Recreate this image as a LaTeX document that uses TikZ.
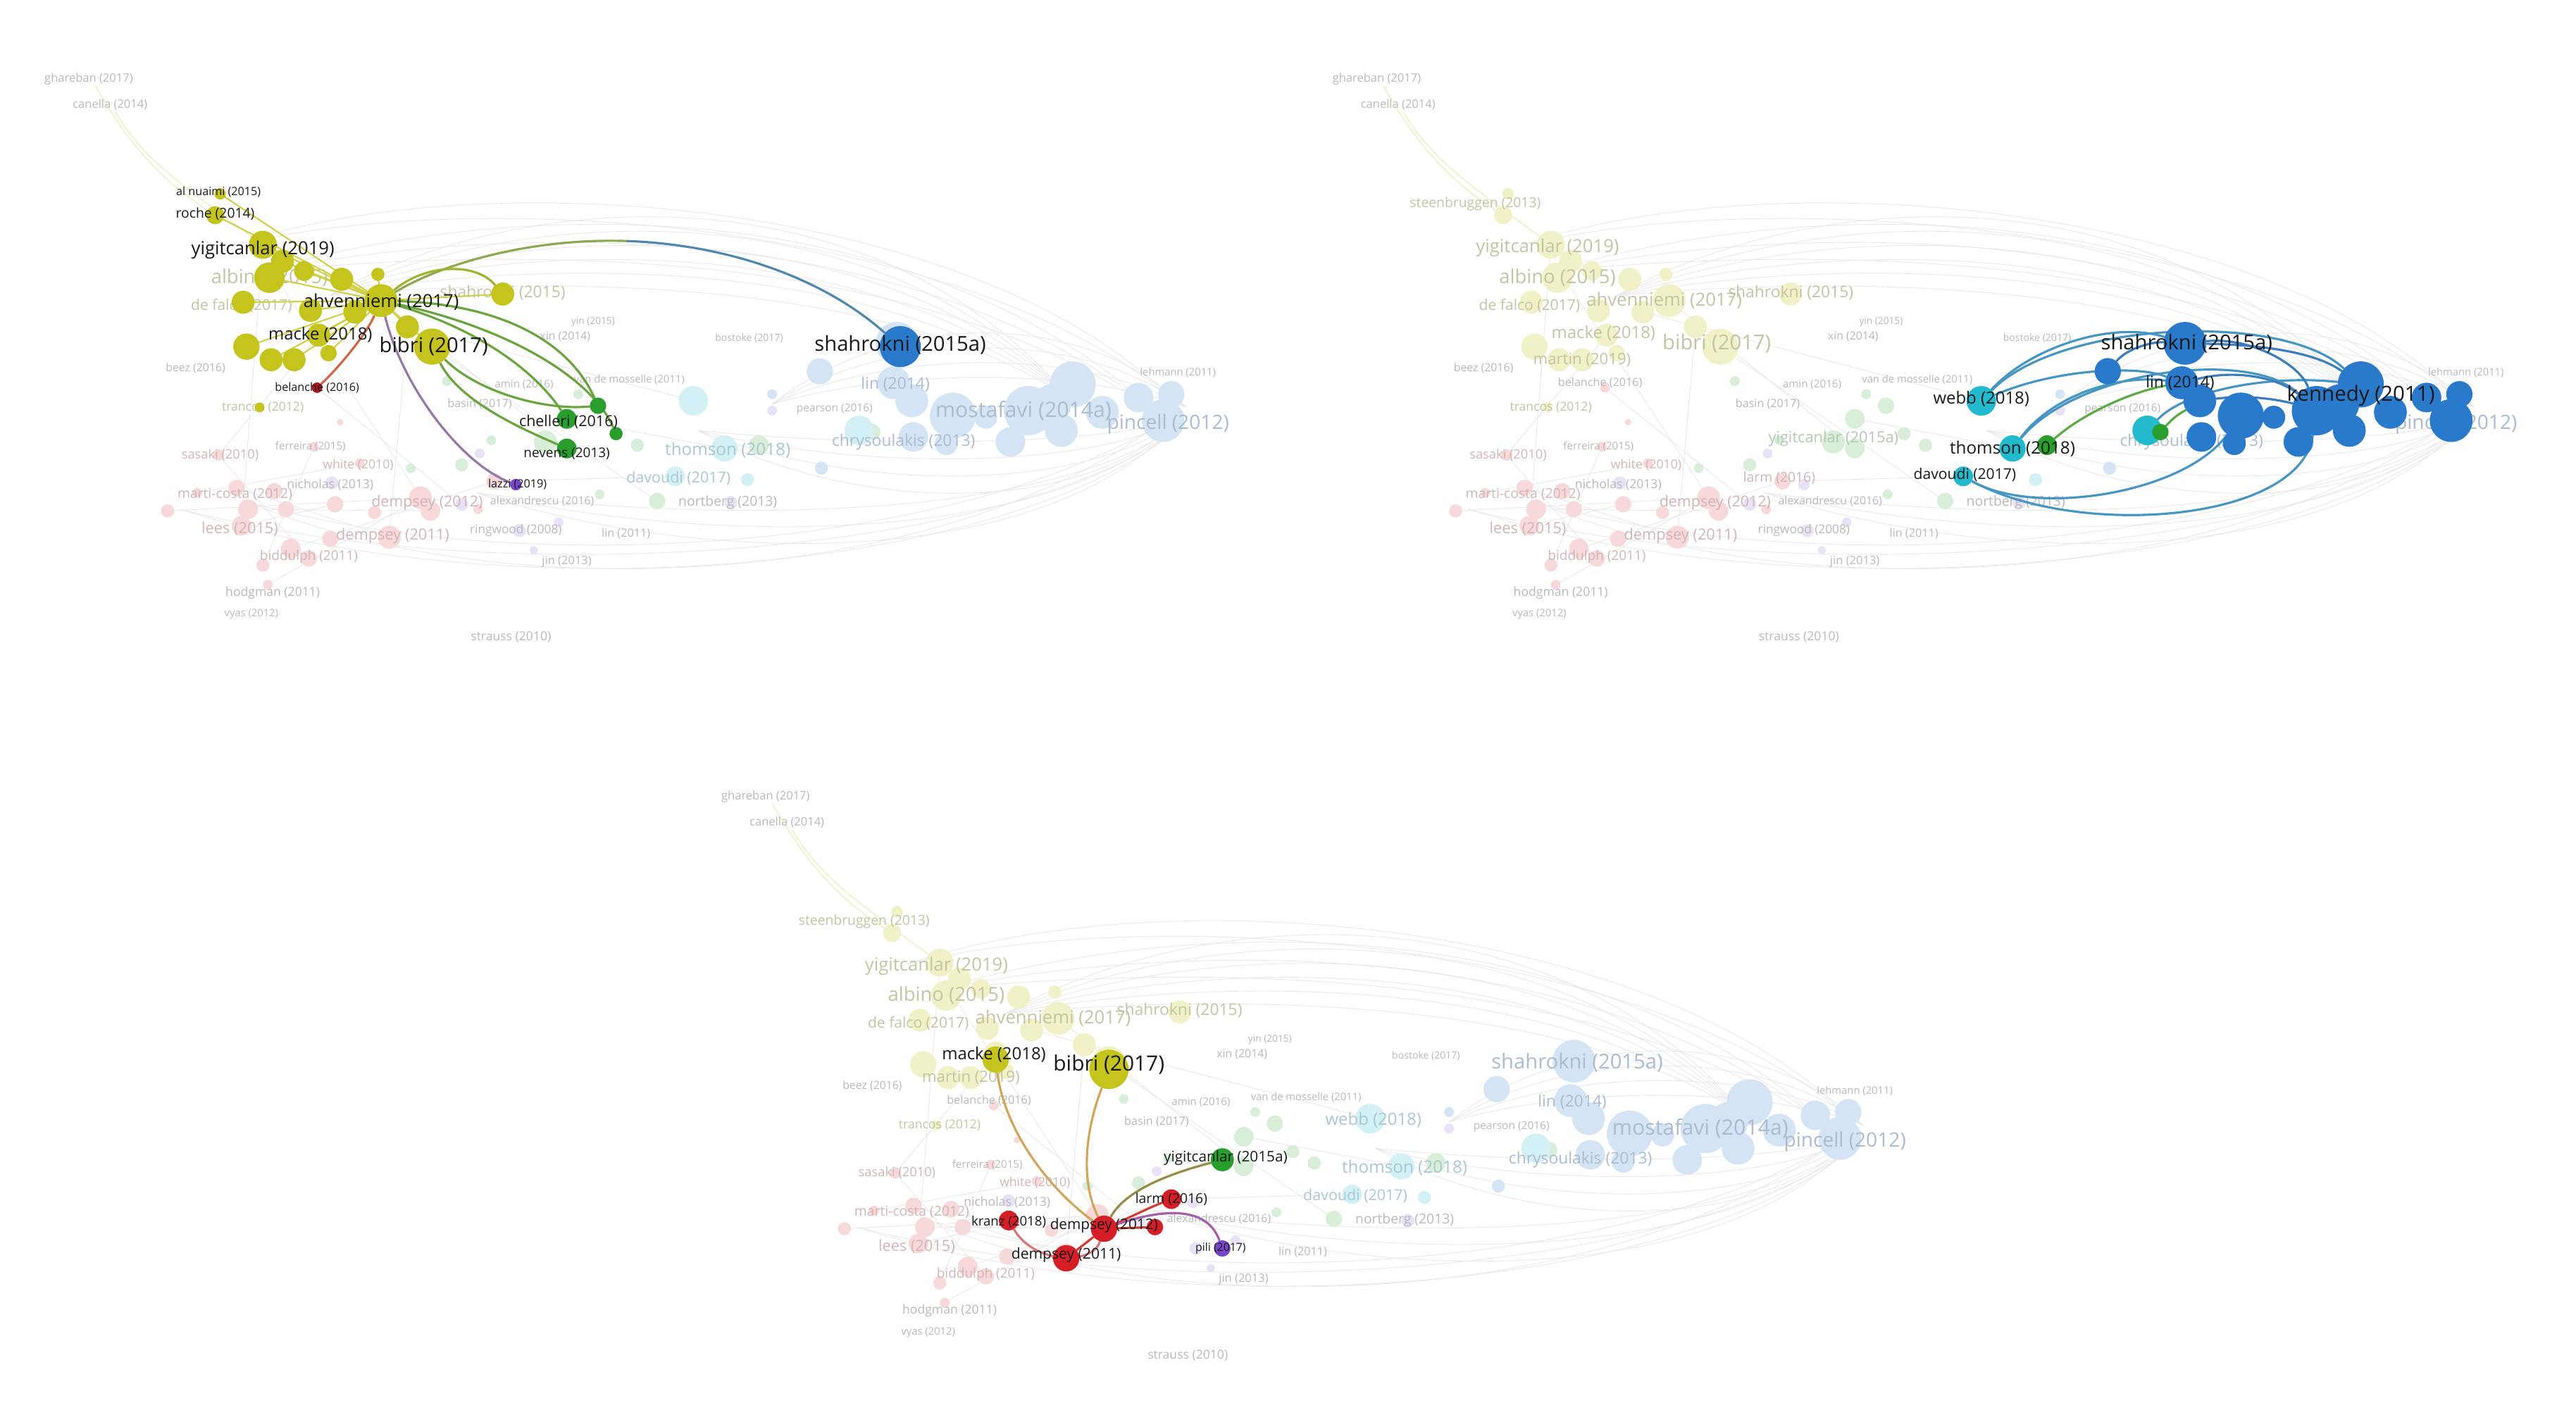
\documentclass[tikz,border=0pt]{standalone}
\usepackage{fontspec}
\setmainfont{Open Sans}
\definecolor{cY}{RGB}{196,196,28}
\definecolor{cB}{RGB}{42,122,204}
\definecolor{cC}{RGB}{36,186,206}
\definecolor{cG}{RGB}{40,158,44}
\definecolor{cR}{RGB}{214,30,38}
\definecolor{cP}{RGB}{120,70,200}
\definecolor{txt}{RGB}{25,25,25}
\colorlet{fY}{cY!24}
\colorlet{fB}{cB!20}
\colorlet{fC}{cC!20}
\colorlet{fG}{cG!18}
\colorlet{fR}{cR!17}
\colorlet{fP}{cP!16}
\definecolor{ty}{RGB}{196,196,165}
\definecolor{tb}{RGB}{172,188,208}
\definecolor{tr}{RGB}{208,182,182}
\definecolor{tg}{RGB}{180,200,180}
\definecolor{tc}{RGB}{170,200,210}
\definecolor{tk}{RGB}{185,185,185}
\definecolor{eA}{RGB}{140,168,80}
\definecolor{eB}{RGB}{80,135,175}
\definecolor{eG}{RGB}{105,165,60}
\definecolor{eYG}{RGB}{160,180,50}
\definecolor{eP}{RGB}{150,120,165}
\definecolor{eR}{RGB}{205,105,75}
\definecolor{eC}{RGB}{70,150,195}
\definecolor{eB2}{RGB}{60,125,190}
\definecolor{eGC}{RGB}{90,170,70}
\definecolor{eT}{RGB}{210,165,90}
\definecolor{eO}{RGB}{150,140,70}
\definecolor{eRR}{RGB}{210,60,50}
\definecolor{eRP}{RGB}{215,120,120}
\definecolor{ePP}{RGB}{165,95,170}
\tikzset{
  fe/.style={line width=0.25pt, draw=black!9},
  fey/.style={line width=0.35pt, draw=cY!30},
  nd/.style={circle, inner sep=0pt, minimum size=#1*0.04665cm, draw=none},
  lab/.style={font=\fontsize{#1}{#1}\selectfont, text=txt, inner sep=0pt},
  flab/.style={font=\fontsize{#1}{#1}\selectfont, inner sep=0pt},
  hl/.style={line width=0.9pt, line cap=round},
}
\newcommand\YList{134/118/3.5,131/131/5.5,160/149/8.5,172/159/7,164/169/9.3,208/170/7,230/167/4,232/183/10,148/184/7,189/189/7,216/190/7,248/199/7,263/211/11,150/211/8,165/219/7,179/219/7,194/204/7,306/179/7,185/165/6,200/215/5,158/248/3}
\newcommand\BList{546/209/13,499/226/8,544/233/10,555/244/10,580/253/14,600/254/7,626/250/15,653/234/14,671/251/10,693/242/9,713/240/8,708/256/13,615/269/9,556/266/9,646/262/10,576/270/7,640/246/12}
\newcommand\BXList{500/285/4,470/240/3}
\newcommand\CList{422/244/9,441/273/8,411/290/6,523/262/9,455/292/4}
\newcommand\GList{281/283/4,299/268/3,388/271/4,400/305/5,365/301/3,345/255/6,364/247/5,375/264/4,345/273/6,332/269/7,462/271/6,531/263/5,272/232/3,352/240/3,250/285/3}
\newcommand\RList{133/277/3.5,191/272/3,144/297/5,167/299/5,102/311/4,151/310/6,174/310/5,147/320/6,204/307/5,201/328/5,177/334/6,188/340/5,160/344/4,256/303/7,262/311/6,237/327/7,219/282/3,163/356/3,207/257/2,193/236/3,120/300/3,228/312/4,301/293/5,291/310/3}
\newcommand\PList{202/294/4,281/307/4,316/323/4,445/306/4,314/295/3.5,340/318/3,292/276/3,470/250/3,325/335/2.5}
\newcommand\bgedges{%
 \foreach \h in {108,120,132,144,156,168}{\draw[fe] (200,180) .. controls (330,\h) and (540,\h) .. (650,242);}
 \foreach \h in {118,134,150}{\draw[fe] (160,165) .. controls (320,\h) and (560,\h) .. (705,252);}
 \foreach \h in {95,110}{\draw[fe] (140,150) .. controls (300,\h) and (600,\h+30) .. (715,245);}
 \foreach \h in {188,200,212,224}{\draw[fe] (470,246) .. controls (545,\h) and (660,\h) .. (722,248);}
 \foreach \h in {272,286,300,314}{\draw[fe] (425,262) .. controls (520,\h) and (660,\h) .. (716,256);}
 \foreach \h in {318,332,346}{\draw[fe] (290,300) .. controls (430,\h) and (630,\h) .. (712,262);}
 \foreach \h in {330,350}{\draw[fe] (150,305) .. controls (300,\h+20) and (560,\h+10) .. (700,262);}
 \foreach \h in {360,372}{\draw[fe] (110,310) .. controls (300,\h) and (600,\h-20) .. (712,265);}
 \draw[fey] (58,52) .. controls (78,88) and (100,112) .. (131,131);
 \draw[fey] (70,68) .. controls (88,98) and (110,112) .. (160,149);
 \foreach \xa/\ya/\xb/\yb in {102/311/256/303,144/297/237/327,133/277/188/340,151/310/262/311,120/300/219/282,163/356/256/303,177/334/301/293,147/320/204/307,191/272/160/344,160/149/147/320,172/175/256/303,194/204/133/277,248/199/237/327,232/183/345/273,263/211/400/305,216/190/422/244,345/255/441/273,301/293/411/290,193/236/281/307}{\draw[fe] (\xa,\ya) -- (\xb,\yb);}
}
\newcommand\bgnodes{%
 \foreach \x/\y/\r in \YList {\fill[fY] (\x,\y) circle (\r);}
 \foreach \x/\y/\r in \RList {\fill[fR] (\x,\y) circle (\r);}
 \foreach \x/\y/\r in \GList {\fill[fG] (\x,\y) circle (\r);}
 \foreach \x/\y/\r in \PList {\fill[fP] (\x,\y) circle (\r);}
 \foreach \x/\y/\r in \CList {\fill[fC] (\x,\y) circle (\r);}
 \foreach \x/\y/\r in \BList {\fill[fB] (\x,\y) circle (\r);}
 \foreach \x/\y/\r in \BXList {\fill[fB] (\x,\y) circle (\r);}
}
\newcommand\bglabels{%
 \foreach \x/\y/\sz/\co/\tx [count=\i] in {54/48/4.7/tk/{ghareban (2017)},67/63.5/4.7/tk/{canella (2014)},164/169/7.8/ty/{albino (2015)},147/186/6/ty/{de falco (2017)},306/178/6.5/ty/{shahrokni (2015)},361/196/3.9/tk/{yin (2015)},344/205/4.5/tk/{xin (2014)},119/224/4.5/tk/{beez (2016)},160/248/5/ty/{trancos (2012)},383/231/4.2/tk/{van de mosselle (2011)},456/206/4/tk/{bostoke (2017)},319/234/4.3/tk/{amin (2016)},292/246/4.6/tk/{basin (2017)},134/277/5.2/tr/{sasaki (2010)},189/272/4.3/tk/{ferreira (2015)},218/283/5/tr/{white (2010)},201/295/5/tk/{nicholas (2013)},143/301/5.5/tr/{marti-costa (2012)},146/322/6.2/tr/{lees (2015)},188/339/5.4/tr/{biddulph (2011)},166/361/5/tk/{hodgman (2011)},153/374/4.2/tk/{vyas (2012)},311/388/5/tk/{strauss (2010)},330/305/4.5/tk/{alexandrescu (2016)},381/325/4.6/tk/{lin (2011)},345/342/4.7/tk/{jin (2013)},443/306/5.5/tk/{nortberg (2013)},717/227/4.2/tk/{lehmann (2011)},711/258/8/tb/{pincell (2012)},550/269/6.5/tb/{chrysoulakis (2013)},508/249/4.4/tk/{pearson (2016)}}
 {\node[flab=\sz, text=\co] (fl\i) at (\x,\y) {\tx};}
}
\begin{document}
\begin{tikzpicture}[x=0.023323cm,y=-0.023323cm]
\useasboundingbox (0,0) rectangle (1568,854);
\fill[white] (0,0) rectangle (1568,854);

% ================= PANEL 1 =================
\begin{scope}
 \bgedges \bgnodes \bglabels
 \foreach \x/\y/\sz/\co/\tx [count=\i] in {545/234/6.5/tb/{lin (2014)},443/274/6.9/tc/{thomson (2018)},413/291/6.1/tc/{davoudi (2017)},260/306/6.1/tr/{dempsey (2012)},239/326/6.2/tr/{dempsey (2011)},314/323/4.9/tk/{ringwood (2008)},623/250/8.6/tb/{mostafavi (2014a)}}
 {\node[flab=\sz, text=\co] (pa\i) at (\x,\y) {\tx};}
\end{scope}
\coordinate (a-hub) at (232,183);
\foreach \x/\y/\r [count=\i] in \YList {\coordinate (ay\i) at (\x,\y);}
\foreach \i in {1,...,20} {\draw[line width=0.6pt, draw=cY!80] (a-hub) -- (ay\i);}
\node[nd=10] (a-ahv) at (232,183) {};
\node[nd=11] (a-bib) at (263,211) {};
\node[nd=7] (a-mac) at (194,204) {};
\node[nd=7] (a-shk) at (306,179) {};
\node[nd=12.5] (a-shka) at (548,211) {};
\node[nd=5] (a-che1) at (364,247) {};
\node[nd=6] (a-che2) at (345,255) {};
\node[nd=4] (a-che3) at (375,264) {};
\node[nd=6] (a-nev) at (345,273) {};
\node[nd=3.5] (a-laz) at (314,295) {};
\node[nd=3.2] (a-bel) at (193,236) {};
\coordinate (a-mid) at (382,146.75);
\draw[hl, eA] (a-ahv) .. controls (271,159.5) and (325.5,144.75) .. (a-mid);
\draw[hl, eB] (a-mid) .. controls (439.5,148.75) and (499,167.5) .. (a-shka);
\draw[hl, eYG] (a-ahv) .. controls (260,160) and (290,160) .. (a-shk);
\draw[hl, eG] (a-ahv) .. controls (300,185) and (345,205) .. (a-che1);
\draw[hl, eG] (a-ahv) .. controls (290,200) and (325,225) .. (a-che2);
\draw[hl, eG] (a-bib) .. controls (290,238) and (330,250) .. (a-che1);
\draw[hl, eG] (a-bib) .. controls (280,245) and (320,262) .. (a-nev);
\draw[hl, eG] (a-ahv) .. controls (310,200) and (360,230) .. (a-che3);
\draw[hl, eP] (a-ahv) .. controls (245,235) and (280,282) .. (a-laz);
\draw[hl, eR] (a-ahv) .. controls (222,205) and (205,225) .. (a-bel);
\foreach \x/\y/\r in \YList {\fill[cY] (\x,\y) circle (\r);}
\fill[cB] (a-shka.center) circle (12.5);
\fill[cG] (a-che1.center) circle (5);
\fill[cG] (a-che2.center) circle (6);
\fill[cG] (a-che3.center) circle (4);
\fill[cG] (a-nev.center) circle (6);
\fill[cP] (a-laz.center) circle (3.5);
\fill[cR!80!black] (a-bel.center) circle (3.2);
\node[lab=4.6] (a-t1) at (133,117) {al nuaimi (2015)};
\node[lab=5.5] (a-t2) at (131,130) {roche (2014)};
\node[lab=7.3] (a-t3) at (160,152) {yigitcanlar (2019)};
\node[lab=7.3] (a-t4) at (232,184) {ahvenniemi (2017)};
\node[lab=6.8] (a-t5) at (195,204) {macke (2018)};
\node[lab=8.3] (a-t6) at (264,211) {bibri (2017)};
\node[lab=4.6] (a-t7) at (193,236) {belanche (2016)};
\node[lab=6.1] (a-t8) at (346,257) {chelleri (2016)};
\node[lab=5.4] (a-t9) at (345,276) {nevens (2013)};
\node[lab=4.6] (a-t10) at (315,295) {lazzi (2019)};
\node[lab=8.3] (a-t11) at (548,210) {shahrokni (2015a)};

% ================= PANEL 2 =================
\begin{scope}[shift={(784,0)}]
 \bgedges \bgnodes \bglabels
 \foreach \x/\y/\sz/\co/\tx [count=\i] in {114/124/5.5/ty/{steenbruggen (2013)},158/151/7.3/ty/{yigitcanlar (2019)},229/183/7.3/ty/{ahvenniemi (2017)},192/203/6.8/ty/{macke (2018)},261/209/8.3/ty/{bibri (2017)},179/219/6.3/ty/{martin (2019)},190/233/4.6/tk/{belanche (2016)},260/306/6.1/tr/{dempsey (2012)},239/326/6.2/tr/{dempsey (2011)},332/267/6.2/tg/{yigitcanlar (2015a)},299/291/5.5/tr/{larm (2016)},314/323/4.9/tk/{ringwood (2008)}}
 {\node[flab=\sz, text=\co] (pb\i) at (\x,\y) {\tx};}
\end{scope}
\node[nd=13] (b-shka) at (1330,209) {};
\node[nd=8] (b-n1) at (1283,226) {};
\node[nd=10] (b-lin) at (1328,233) {};
\node[nd=10] (b-l2) at (1339,244) {};
\node[nd=14] (b-big) at (1364,253) {};
\node[nd=15] (b-ken) at (1410,250) {};
\node[nd=14] (b-ken2) at (1437,234) {};
\node[nd=9] (b-webb) at (1206,244) {};
\node[nd=8] (b-thom) at (1225,273) {};
\node[nd=6] (b-thg) at (1246,271) {};
\node[nd=6] (b-dav) at (1195,290) {};
\node[nd=9] (b-chr) at (1307,262) {};
\node[nd=5] (b-chg) at (1315,263) {};
\draw[hl, eC] (b-webb) .. controls (1235,212) and (1285,195) .. (b-shka);
\draw[hl, eC] (b-webb) .. controls (1255,195) and (1390,190) .. (b-ken2);
\draw[hl, eC] (b-webb) .. controls (1250,225) and (1300,222) .. (b-lin);
\draw[hl, eC] (b-thom) .. controls (1250,240) and (1290,228) .. (b-lin);
\draw[hl, eC] (b-thom) .. controls (1265,225) and (1370,212) .. (b-ken);
\draw[hl, eGC] (b-thg) .. controls (1270,250) and (1300,238) .. (b-lin);
\draw[hl, eC] (b-dav) .. controls (1265,328) and (1400,318) .. (b-ken);
\draw[hl, eC] (b-dav) .. controls (1240,315) and (1330,300) .. (b-big);
\draw[hl, eC] (b-chr) .. controls (1330,238) and (1380,228) .. (b-ken2);
\draw[hl, eGC] (b-chg) .. controls (1325,252) and (1330,250) .. (b-l2);
\draw[hl, eB2] (b-shka) .. controls (1370,205) and (1400,222) .. (b-ken);
\draw[hl, eB2] (b-shka) .. controls (1380,210) and (1410,215) .. (b-ken2);
\draw[hl, eB2] (b-n1) .. controls (1295,212) and (1310,208) .. (b-shka);
\draw[hl, eB2] (b-lin) .. controls (1365,224) and (1390,232) .. (b-ken);
\draw[hl, eB2] (b-l2) .. controls (1370,240) and (1390,244) .. (b-ken);
\begin{scope}[shift={(784,0)}]
 \foreach \x/\y/\r in \BList {\fill[cB] (\x,\y) circle (\r);}
\end{scope}
\fill[cC] (b-webb.center) circle (9);
\fill[cC] (b-thom.center) circle (8);
\fill[cG] (b-thg.center) circle (6);
\fill[cC] (b-dav.center) circle (6);
\fill[cC] (b-chr.center) circle (9);
\fill[cG] (b-chg.center) circle (5);
\node[lab=8.3] (b-t1) at (1331,209) {shahrokni (2015a)};
\node[lab=6.5] (b-t2) at (1327,233) {lin (2014)};
\node[lab=8.4] (b-t3) at (1437,241) {kennedy (2011)};
\node[lab=6.8] (b-t4) at (1206,243) {webb (2018)};
\node[lab=6.9] (b-t5) at (1225,273) {thomson (2018)};
\node[lab=6] (b-t6) at (1196,289) {davoudi (2017)};

% ================= PANEL 3 =================
\begin{scope}[shift={(412,437)}]
 \bgedges \bgnodes \bglabels
 \foreach \x/\y/\sz/\co/\tx [count=\i] in {114/124/5.5/ty/{steenbruggen (2013)},158/151/7.3/ty/{yigitcanlar (2019)},229/183/7.3/ty/{ahvenniemi (2017)},179/219/6.3/ty/{martin (2019)},190/233/4.6/tk/{belanche (2016)},548/210/8.3/tb/{shahrokni (2015a)},545/234/6.5/tb/{lin (2014)},424/245/6.8/tc/{webb (2018)},443/274/6.9/tc/{thomson (2018)},413/291/6.1/tc/{davoudi (2017)},623/250/8.6/tb/{mostafavi (2014a)}}
 {\node[flab=\sz, text=\co] (pc\i) at (\x,\y) {\tx};}
\end{scope}
\node[nd=8] (c-mac) at (606,645) {};
\node[nd=12] (c-bib) at (675,651) {};
\node[nd=7] (c-yig) at (744,706) {};
\node[nd=6] (c-larm) at (713,730) {};
\node[nd=8] (c-dem2) at (672,748) {};
\node[nd=5] (c-d2b) at (703,747) {};
\node[nd=6] (c-kra) at (614,743) {};
\node[nd=8] (c-dem1) at (649,766) {};
\node[nd=5] (c-pili) at (744,760) {};
\draw[hl, eT] (c-mac) .. controls (612,690) and (640,725) .. (c-dem2);
\draw[hl, eT] (c-bib) .. controls (660,690) and (658,720) .. (c-dem2);
\draw[hl, eO] (c-yig) .. controls (710,715) and (685,725) .. (c-dem2);
\draw[hl, eRR] (c-larm) .. controls (700,735) and (690,740) .. (c-dem2);
\draw[hl, eRP] (c-kra) .. controls (630,770) and (665,770) .. (c-dem2);
\draw[hl, eRR] (c-dem1) -- (c-dem2);
\draw[hl, eRR] (c-d2b) -- (c-dem2);
\draw[hl, ePP] (c-dem2) .. controls (710,735) and (735,735) .. (c-pili);
\fill[cY] (c-mac.center) circle (8);
\fill[cY] (c-bib.center) circle (12);
\fill[cG] (c-yig.center) circle (7);
\fill[cR] (c-larm.center) circle (6);
\fill[cR] (c-dem2.center) circle (8);
\fill[cR] (c-d2b.center) circle (5);
\fill[cR] (c-kra.center) circle (6);
\fill[cR] (c-dem1.center) circle (8);
\fill[cP] (c-pili.center) circle (5);
\node[lab=6.8] (c-t1) at (605,642) {macke (2018)};
\node[lab=8.5] (c-t2) at (675,648) {bibri (2017)};
\node[lab=5.9] (c-t3) at (746,705) {yigitcanlar (2015a)};
\node[lab=5.5] (c-t4) at (713,730) {larm (2016)};
\node[lab=5.3] (c-t5) at (614,744) {kranz (2018)};
\node[lab=5.9] (c-t6) at (672,746) {dempsey (2012)};
\node[lab=6] (c-t7) at (649,764) {dempsey (2011)};
\node[lab=4.5] (c-t8) at (743,760) {pili (2017)};
\end{tikzpicture}
\end{document}
